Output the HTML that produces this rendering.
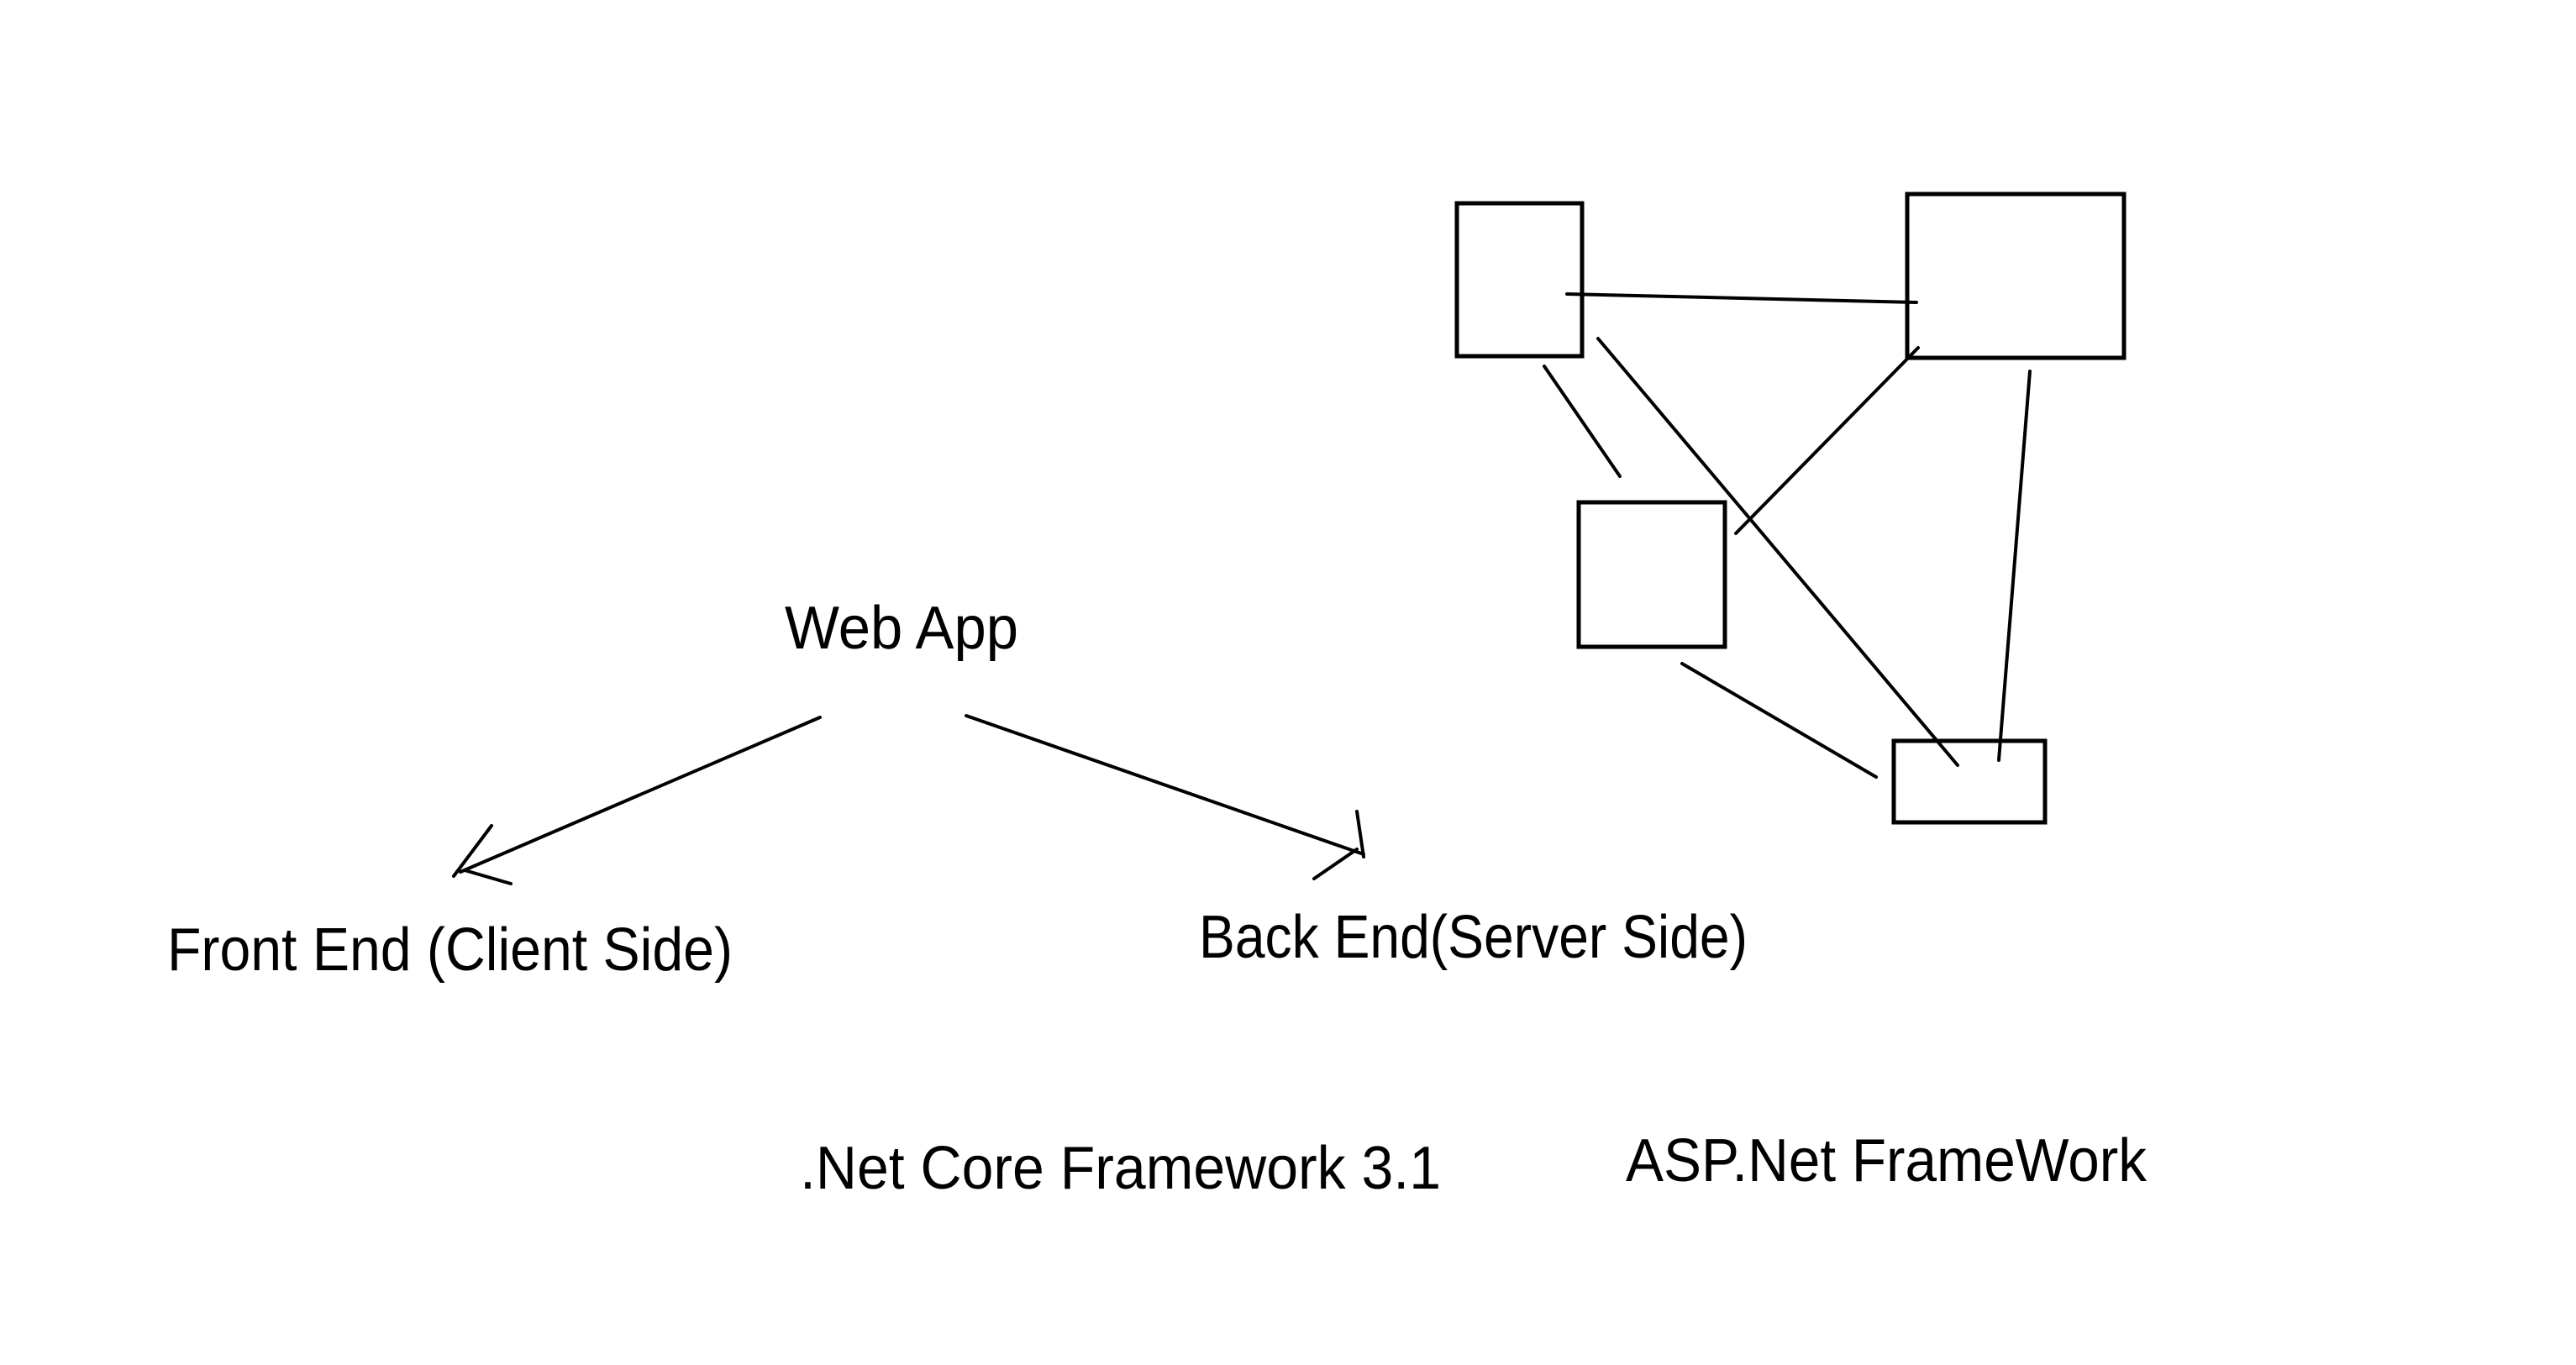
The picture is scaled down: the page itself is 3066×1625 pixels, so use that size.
<!DOCTYPE html>
<html><head><meta charset="utf-8"><style>html,body{margin:0;padding:0;background:#fff}svg{display:block}</style></head>
<body>
<svg width="3066" height="1625" viewBox="0 0 3066 1625" xmlns="http://www.w3.org/2000/svg">
<rect width="3066" height="1625" fill="#fff"/>
<g fill="none" stroke="#000" stroke-width="5">
<rect x="1734" y="242" width="149" height="182"/>
<rect x="2270" y="231" width="258" height="195"/>
<rect x="1879" y="598" width="174" height="172"/>
<rect x="2254" y="882" width="180" height="97"/>
</g>
<g stroke="#000" stroke-width="4" stroke-linecap="round" fill="none">
<line x1="1865" y1="350" x2="2281" y2="360"/>
<line x1="1838" y1="436" x2="1928" y2="567"/>
<line x1="1902" y1="403" x2="2330" y2="911"/>
<line x1="2283" y1="414" x2="2066" y2="635"/>
<line x1="2416" y1="442" x2="2379" y2="905"/>
<line x1="2002" y1="790" x2="2233" y2="925"/>
<line x1="976" y1="854" x2="548" y2="1038"/>
<line x1="540" y1="1043" x2="585" y2="983"/>
<line x1="553" y1="1036" x2="608" y2="1052"/>
<line x1="1150" y1="852" x2="1623" y2="1017"/>
<line x1="1615" y1="966" x2="1623" y2="1020"/>
<line x1="1564" y1="1046" x2="1615" y2="1011"/>
</g>
<g font-family="Liberation Sans, sans-serif" font-size="72" fill="#000">
<text x="934" y="772" textLength="278" lengthAdjust="spacingAndGlyphs">Web App</text>
<text x="199" y="1155" textLength="673" lengthAdjust="spacingAndGlyphs">Front End (Client Side)</text>
<text x="1427" y="1140" textLength="653" lengthAdjust="spacingAndGlyphs">Back End(Server Side)</text>
<text x="952" y="1415" textLength="763" lengthAdjust="spacingAndGlyphs">.Net Core Framework 3.1</text>
<text x="1935" y="1406" textLength="620" lengthAdjust="spacingAndGlyphs">ASP.Net FrameWork</text>
</g>
</svg>
</body></html>
